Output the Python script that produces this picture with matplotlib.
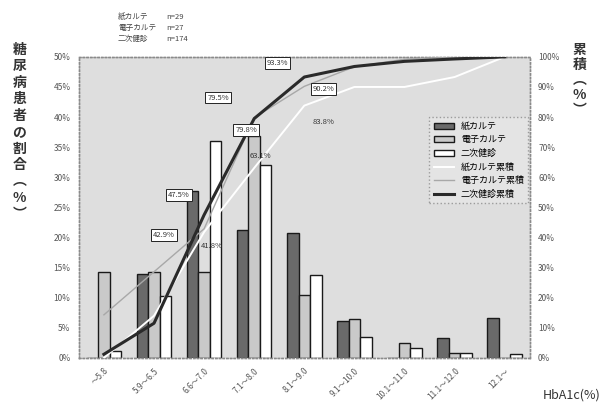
import matplotlib.pyplot as plt
import numpy as np
from matplotlib.lines import Line2D
from matplotlib.patches import Patch

plt.rcParams['font.family'] = ['Noto Sans CJK JP', 'DejaVu Sans']

# HbA1c bins and share of patients per group (%)
categories = ['～5.8', '5.9～6.5', '6.6～7.0', '7.1～8.0', '8.1～9.0',
              '9.1～10.0', '10.1～11.0', '11.1～12.0', '12.1～']
paper = [0.0, 14.0, 27.8, 21.3, 20.7, 6.2, 0.0, 3.3, 6.7]
ehr = [14.3, 14.3, 14.3, 36.9, 10.4, 6.5, 2.5, 0.8, 0.0]
second = [1.2, 10.3, 36.0, 32.0, 13.8, 3.5, 1.7, 0.8, 0.7]

series_names = ['紙カルテ', '電子カルテ', '二次健診']
counts = ['n=29', 'n=27', 'n=174']

cum_paper = np.cumsum(paper)
cum_ehr = np.cumsum(ehr)
cum_second = np.cumsum(second)

fig = plt.figure(figsize=(6.02, 4.09), dpi=100)
ax = fig.add_axes([0.131, 0.125, 0.749, 0.736])
ax.set_facecolor('#dedede')
ax2 = ax.twinx()

x = np.arange(len(categories))
w = 0.23
bar_styles = [('#6a6a6a', paper), ('#c9c9c9', ehr), ('#ffffff', second)]
for k, (fc, vals) in enumerate(bar_styles):
    ax.bar(x + (k - 1) * w, vals, width=w, color=fc,
           edgecolor='#1a1a1a', linewidth=1.0, zorder=2)

ax.set_xlim(-0.5, len(categories) - 0.5)
ax.set_ylim(0, 50)
ax.set_yticks(np.arange(0, 51, 5))
ax.set_yticklabels([f'{v}%' for v in range(0, 51, 5)],
                   fontsize=6, color='#555555')
ax.set_xticks(x)
ax.set_xticklabels(categories, rotation=45, ha='right',
                   rotation_mode='anchor', fontsize=6, color='#555555')
ax.tick_params(length=0, pad=6)

# cumulative curves on the right axis
ax2.plot(x, cum_paper, color='white', linewidth=1.4, zorder=3)
ax2.plot(x, cum_ehr, color='#a8a8a8', linewidth=1.0, zorder=3)
ax2.plot(x, cum_second, color='#2a2a2a', linewidth=2.2, zorder=4)
ax2.set_ylim(0, 100)
ax2.set_yticks(np.arange(0, 101, 10))
ax2.set_yticklabels([f'{v}%' for v in range(0, 101, 10)],
                    fontsize=6, color='#555555')
ax2.tick_params(length=0, pad=6)

for a in (ax, ax2):
    for s in a.spines.values():
        s.set_color('#8a8a8a')
        s.set_linestyle(':')
        s.set_linewidth(1.0)

# cumulative value callouts (series, bin index, offset px, boxed)
callouts = [
    (cum_ehr, 2, -40, -6, True),
    (cum_second, 2, -25, 20, True),
    (cum_paper, 2, 8, -14, False),
    (cum_second, 3, -36, 21, True),
    (cum_ehr, 3, -8, -12, True),
    (cum_paper, 3, 6, 12, False),
    (cum_second, 4, -27, 14, True),
    (cum_ehr, 4, 19, -3, True),
    (cum_paper, 4, 19, -16, False),
]
for cum, i, dx, dy, boxed in callouts:
    bbox = dict(boxstyle='square,pad=0.25', fc='white', ec='#222222',
                lw=0.7) if boxed else None
    ax2.annotate(f'{cum[i]:.1f}%', (x[i], cum[i]), xytext=(dx, dy),
                 textcoords='offset pixels', fontsize=5.5, color='#333333',
                 ha='center', va='center', bbox=bbox, zorder=6)

handles = [
    Patch(facecolor='#6a6a6a', edgecolor='#1a1a1a'),
    Patch(facecolor='#c9c9c9', edgecolor='#1a1a1a'),
    Patch(facecolor='#ffffff', edgecolor='#1a1a1a'),
    Line2D([], [], color='white', linewidth=1.4),
    Line2D([], [], color='#a8a8a8', linewidth=1.0),
    Line2D([], [], color='#2a2a2a', linewidth=2.2),
]
labels = series_names + [n + '累積' for n in series_names]
leg = ax2.legend(handles, labels, loc='upper right',
                 bbox_to_anchor=(1.007, 0.814), fontsize=6.5,
                 frameon=True, fancybox=False, handlelength=2.2,
                 labelspacing=0.5, borderpad=0.5)
leg.get_frame().set_facecolor('#e6e6e6')
leg.get_frame().set_edgecolor('#8a8a8a')
leg.get_frame().set_linestyle(':')
leg.set_zorder(7)

# header with group sizes
for j, (name, n) in enumerate(zip(series_names, counts)):
    yy = 1 - (17 + 11 * j) / 409
    fig.text(0.196, yy, name, fontsize=5.5, color='#444444', va='center')
    fig.text(0.276, yy, n, fontsize=5.5, color='#444444', va='center')

left_label = '糖尿病患者の割合︵%︶'
fig.text(0.032, 0.895, '\n'.join(left_label), fontsize=10,
         fontweight='bold', color='#333333', ha='center', va='top',
         linespacing=1.22)
fig.text(0.963, 0.895, '\n'.join('累積︵%︶'), fontsize=10,
         fontweight='bold', color='#333333', ha='center', va='top',
         linespacing=1.1)
fig.text(0.997, 0.035, 'HbA1c(%)', fontsize=9, color='#333333',
         ha='right', va='center')

fig.savefig('out.png', dpi=100)
